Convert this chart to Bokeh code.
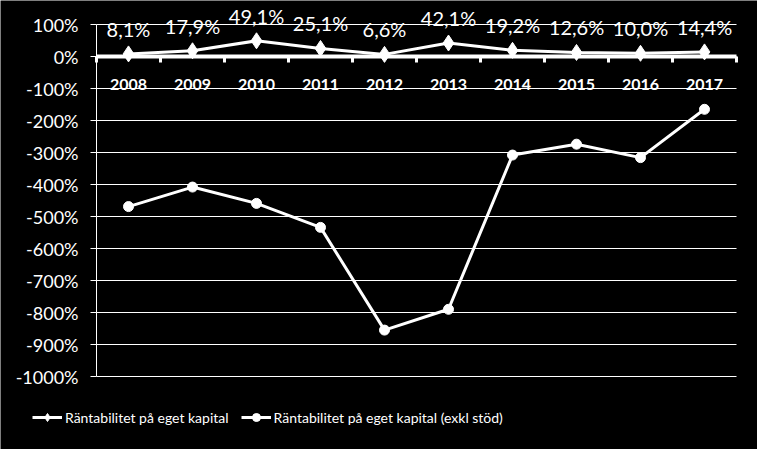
from bokeh.plotting import figure
from bokeh.models import (FixedTicker, LinearAxis, PrintfTickFormatter, Range1d,
                          Legend, LegendItem, ColumnDataSource)
from bokeh.core.properties import value
from bokeh.embed import file_html
from bokeh.resources import INLINE

years = ["2008", "2009", "2010", "2011", "2012", "2013", "2014", "2015", "2016", "2017"]
roe = [8.1, 17.9, 49.1, 25.1, 6.6, 42.1, 19.2, 12.6, 10.0, 14.4]
roe_excl = [-469, -408, -459, -534, -855, -790, -308, -274, -316, -165]
y_ticks = list(range(-1000, 101, 100))

FONT = "Lato"
W, H = 757, 449
# plot-area layout (pixels): left edge, width per category, zero line, px per 100 %
LEFT, CAT_W, ZERO_Y, PX_PER_100 = 96, 64, 56, 32

n = len(years)
xs = [i + 0.5 for i in range(n)]
labels = [f"{v:.1f}%".replace(".", ",") for v in roe]
src = ColumnDataSource(dict(x=xs, roe=roe, excl=roe_excl, lab=labels))
grid_src = ColumnDataSource(dict(x0=[0] * len(y_ticks), x1=[n] * len(y_ticks), y=y_ticks))

x_range = Range1d(-LEFT / CAT_W, (W - LEFT) / CAT_W)
y_range = Range1d(-(H - ZERO_Y) / PX_PER_100 * 100, ZERO_Y / PX_PER_100 * 100)

p = figure(width=W, height=H, frame_width=W, frame_height=H,
           x_range=x_range, y_range=y_range,
           output_backend="svg", toolbar_location=None,
           min_border=0, x_axis_type=None)
p.background_fill_color = "black"
p.border_fill_color = "black"
p.outline_line_color = None
p.xgrid.visible = False
p.ygrid.visible = False

# gridlines limited to the plot area
p.segment("x0", "y", "x1", "y", source=grid_src, line_color="white", line_width=1,
          level="underlay")

# y axis at x = 0
ya = p.yaxis[0]
ya.fixed_location = 0
ya.bounds = (y_ticks[0], y_ticks[-1])
ya.ticker = FixedTicker(ticks=y_ticks)
ya.formatter = PrintfTickFormatter(format="%d%%")
ya.axis_line_color = "white"
ya.major_tick_line_color = "white"
ya.major_tick_out = 6
ya.major_tick_in = 0
ya.minor_tick_line_color = None
ya.major_label_text_color = "white"
ya.major_label_text_font = FONT
ya.major_label_text_font_size = "18px"
ya.major_label_standoff = 12

# category axis crossing at 0
tick_axis = LinearAxis(fixed_location=0, ticker=FixedTicker(ticks=list(range(0, n + 1))),
                       major_label_overrides={i: "" for i in range(0, n + 1)},
                       axis_line_color="white", bounds=(0, n),
                       axis_line_width=4, major_tick_line_color="white",
                       major_tick_line_width=3, major_tick_out=6, major_tick_in=0,
                       minor_tick_line_color=None)
p.add_layout(tick_axis, "below")
label_axis = LinearAxis(fixed_location=0, ticker=FixedTicker(ticks=xs),
                        major_label_overrides={x: y for x, y in zip(xs, years)},
                        axis_line_color=None, major_tick_line_color=None,
                        minor_tick_line_color=None, major_tick_out=0, major_tick_in=0,
                        major_label_standoff=22, major_label_text_color="white",
                        major_label_text_font=FONT, major_label_text_font_style="bold",
                        major_label_text_font_size="16px")
p.add_layout(label_axis, "below")

l1 = p.line("x", "roe", source=src, line_color="white", line_width=3)
m1 = p.scatter("x", "roe", source=src, marker="diamond", size=16, fill_color="white",
               line_color="white")
l2 = p.line("x", "excl", source=src, line_color="white", line_width=3)
m2 = p.scatter("x", "excl", source=src, marker="circle", size=10, fill_color="white",
               line_color="white")

p.text("x", "roe", text="lab", source=src, y_offset=-25, text_color="white",
       text_font=value(FONT), text_font_size="20px", text_align="center",
       text_baseline="middle")

legend = Legend(items=[LegendItem(label="Räntabilitet på eget kapital", renderers=[l1, m1]),
                       LegendItem(label="Räntabilitet på eget kapital (exkl stöd)", renderers=[l2, m2])],
                location=(32, 22), orientation="horizontal",
                background_fill_color="black", background_fill_alpha=1,
                border_line_color=None, label_text_color="white",
                label_text_font=FONT, label_text_font_size="14px",
                glyph_width=30, spacing=12, label_standoff=3, padding=4)
p.add_layout(legend, "center")

open("out.html", "w").write(file_html(p, INLINE))
